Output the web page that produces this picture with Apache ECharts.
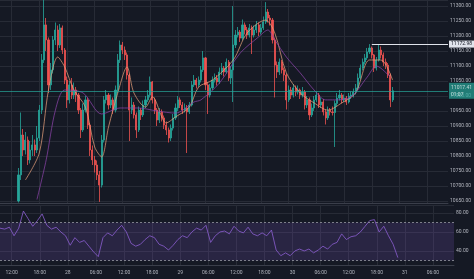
<!DOCTYPE html>
<html>
<head>
<meta charset="utf-8">
<script src="https://cdn.jsdelivr.net/npm/echarts@6/dist/echarts.min.js"></script>
<style>
  html, body { margin: 0; padding: 0; background: #151924; }
  #chart { width: 474px; height: 279px; }
</style>
</head>
<body>
<div id="chart"></div>
<script>
// 30 min candles, first visible candle is at slot 8
var firstSlot = 8
var firstOpen = 10650
var closes = [10737,10870,10820,10853,10787,10820,10837,10820,10860,10953,
  11120,11237,11187,11037,11087,11187,11220,11170,11227,11153,
  11053,10987,11037,11003,11020,11003,10953,10887,10953,10987,
  10903,10820,10787,10770,10737,10703,10853,10987,11003,10970,
  10987,10953,11020,11120,11170,11153,11137,11070,10953,10970,
  10937,10887,10953,10937,10970,10987,11003,11047,10987,10953,
  10920,10947,10927,10903,10887,10860,10893,10927,10960,10987,
  10970,10953,10960,10947,10970,11037,11053,11037,11053,11087,
  11127,11037,11003,11027,11053,11060,11047,11080,11093,11080,
  11113,11060,11087,11170,11203,11213,11193,11237,11220,11203,
  11227,11203,11220,11237,11213,11227,11247,11280,11260,11253,
  11187,11103,11080,11113,11087,11070,10987,11020,11003,11027,
  11013,11020,11003,11013,10970,10987,10937,10960,10987,11003,
  10970,10980,10947,10927,10953,10947,10945,10975,10993,11003,
  10987,10993,10980,11000,11003,11013,11027,11060,11093,11113,
  11127,11147,11160,11137,11093,11120,11153,11137,11113,11103,
  11070,10987,11017.41]
var highs = [10760,10945,10890,10880,10865,10850,10870,10855,10900,10970,
  11140,11320,11260,11195,11110,11200,11245,11235,11240,11235,
  11160,11065,11050,11060,11045,11030,11010,10960,10975,11000,
  10995,10910,10835,10800,10785,10750,10870,11000,11020,11010,
  11005,10995,11035,11140,11185,11180,11165,11145,11075,10995,
  10980,10945,10965,10960,10985,11000,11020,11065,11050,10995,
  10960,10960,10955,10935,10915,10895,10905,10940,10975,11000,
  10995,10980,10975,10970,10980,11050,11070,11060,11065,11100,
  11150,11130,11045,11040,11065,11075,11070,11095,11110,11100,
  11125,11120,11100,11300,11220,11230,11220,11255,11245,11230,
  11240,11235,11235,11250,11245,11240,11265,11313,11290,11270,
  11260,11195,11115,11125,11120,11095,11075,11035,11030,11040,
  11035,11035,11025,11030,11020,11000,10995,10975,11000,11015,
  11010,10995,10990,10955,10965,10960,10965,10985,11010,11020,
  11010,11005,11000,11010,11015,11025,11040,11075,11105,11125,
  11140,11160,11173,11165,11140,11130,11170,11165,11145,11125,
  11110,11075,11030]
var lows = [10645,10720,10800,10805,10770,10775,10800,10800,10810,10850,
  10940,11110,11150,11010,11020,11075,11170,11150,11160,11140,
  11040,10960,10975,10990,10990,10980,10940,10860,10880,10945,
  10890,10800,10770,10745,10720,10647,10695,10845,10975,10955,
  10960,10940,10945,11010,11110,11140,11120,11055,10850,10940,
  10925,10860,10880,10920,10930,10960,10980,10995,10975,10940,
  10900,10910,10915,10890,10870,10845,10850,10885,10920,10950,
  10960,10940,10945,10810,10940,10965,11030,11025,11030,11045,
  11080,11020,10940,10995,11020,11045,11035,11040,11070,11065,
  11075,11050,11040,10980,11160,11195,11180,11185,11205,11190,
  11195,11140,11195,11210,11200,11205,11220,11240,11245,11235,
  11175,10995,11060,11070,11075,11050,10955,10980,10990,10995,
  11000,11005,10990,10995,10955,10960,10920,10930,10950,10980,
  10960,10960,10935,10905,10920,10935,10935,10830,10965,10985,
  10975,10980,10970,10975,10990,10995,11005,11020,11055,11085,
  11105,11120,11140,11125,11080,11085,11115,11125,11100,11090,
  11060,10963,10980]

// moving averages: [slot, price]
var maFast = [[11,10720],[17,10810],[21,11020],[25,11130],[28,11097],[32,11020],[37,10963],
  [41,10830],[44,10797],[47,10897],[51,11010],[55,11097],[58,11010],[63,10963],[66,10997],
  [72,10910],[76,10930],[82,10963],[86,11030],[92,11053],[101,11120],[107,11210],[115,11253],
  [119,11210],[124,11077],[130,11010],[136,10977],[142,10953],[148,10977],[154,11010],
  [160,11120],[165,11120],[170,11053]]
var maSlow = [[16,10655],[20,10787],[24,10953],[28,11020],[36,11010],[44,10940],[52,10960],
  [60,10960],[68,10950],[76,10943],[84,10980],[87,10987],[95,11043],[104,11143],[112,11197],
  [116,11220],[119,11187],[124,11130],[130,11077],[136,11020],[141,10987],[145,10987],
  [152,10997],[159,11063],[163,11100],[169,11063]]

// RSI, one value every 2 slots from slot 0
var rsi = [64,63,65,56,64,82,74,66,72,79,
  67,63,65,60,56,46,54,49,51,45,
  39,34,54,59,56,62,67,60,48,45,
  47,52,56,54,47,45,41,46,52,56,
  54,60,64,62,67,49,56,60,61,58,
  66,61,59,65,58,56,59,56,62,41,
  35,38,35,40,42,40,42,38,41,45,
  42,47,49,58,52,55,56,60,66,72,
  73,60,66,56,47,33]

var lastPrice = 11017.41
var highMark = 11172.98
var highSlot = 161
var slotCount = 195

var slots = []
for (var i = 0; i < slotCount; i++) {
  var m = (27 * 24 + 9.5) * 60 + i * 30
  var d = Math.floor(m / 1440), h = Math.floor((m % 1440) / 60), mm = m % 60
  slots.push({ d: d, h: h, m: mm })
}
var cats = slots.map(function(s, i) { return String(i) })

var candles = []
for (var i = 0; i < slotCount; i++) {
  var k = i - firstSlot
  if (k < 0 || k >= closes.length) { candles.push('-'); continue }
  var o = k === 0 ? firstOpen : closes[k - 1]
  candles.push([o, closes[k], lows[k], highs[k]])
}
var rsiData = rsi.map(function(v, i) { return [i * 2, v] })

function isMajor(i) {
  var s = slots[i]
  return s.m === 0 && s.h % 6 === 0
}
function timeLabel(v) {
  var s = slots[+v]
  if (s.h === 0) return String(s.d)
  return (s.h < 10 ? '0' : '') + s.h + ':00'
}

var gridCol = '#272b36'
var txt = '#b2b5be'
var font = 'Roboto'

var chart = echarts.init(document.getElementById('chart'))
var option = {
  backgroundColor: '#151924',
  animation: false,
  textStyle: { fontFamily: font },
  grid: [
    { left: 0, top: 0, width: 454, height: 203 },
    { left: 0, top: 205, width: 454, height: 60 }
  ],
  xAxis: [{
    type: 'category', gridIndex: 0, data: cats, boundaryGap: false,
    axisLine: { lineStyle: { color: '#3a3e4a' } },
    axisTick: { show: false }, axisLabel: { show: false },
    splitLine: { show: true, interval: function(i) { return isMajor(i) }, lineStyle: { color: gridCol } }
  }, {
    type: 'category', gridIndex: 1, data: cats, boundaryGap: false,
    axisLine: { lineStyle: { color: '#3a3e4a' } },
    axisTick: { show: false },
    axisLabel: { interval: function(i) { return isMajor(i) }, formatter: timeLabel,
      color: txt, fontSize: 5, margin: 5, fontFamily: font },
    splitLine: { show: true, interval: function(i) { return isMajor(i) }, lineStyle: { color: gridCol } }
  }],
  yAxis: [{
    type: 'value', gridIndex: 0, position: 'right', min: 10643.33, max: 11320,
    minInterval: 50, maxInterval: 50,
    axisLine: { show: false }, axisTick: { show: false },
    axisLabel: { color: txt, fontSize: 5, margin: 2, showMinLabel: false, showMaxLabel: false,
      formatter: function(v) { return v.toFixed(2) } },
    splitLine: { lineStyle: { color: gridCol } }
  }, {
    type: 'value', gridIndex: 1, position: 'right', min: 25.2, max: 88.4,
    minInterval: 20, maxInterval: 20,
    axisLine: { show: false }, axisTick: { show: false },
    axisLabel: { color: txt, fontSize: 5, margin: 2, showMinLabel: false, showMaxLabel: false,
      formatter: function(v) { return v.toFixed(2) } },
    splitLine: { lineStyle: { color: gridCol } }
  }],
  series: [{
    type: 'candlestick', xAxisIndex: 0, yAxisIndex: 0, data: candles, barWidth: '70%', clip: true,
    itemStyle: { color: '#26a69a', color0: '#ef5350', borderColor: '#26a69a', borderColor0: '#ef5350', borderWidth: 0.8 },
    markLine: {
      silent: true, symbol: 'none', animation: false,
      data: [
        { yAxis: lastPrice,
          lineStyle: { color: '#26a69a', type: 'solid', width: 1, opacity: 0.7 },
          label: { position: 'end', distance: 1, formatter: lastPrice.toFixed(2) + '\n01:07',
            backgroundColor: '#26a69a', color: '#fff', fontSize: 5, padding: [1, 2], lineHeight: 7 } },
        [{ coord: [highSlot, highMark], lineStyle: { color: '#e0e3eb', type: 'solid', width: 1 },
           label: { position: 'end', distance: 1, formatter: highMark.toFixed(2),
             backgroundColor: '#e0e3eb', color: '#131722', fontSize: 5, padding: [1, 2] } },
         { coord: [slotCount - 1, highMark] }]
      ]
    }
  }, {
    type: 'line', xAxisIndex: 0, yAxisIndex: 0, data: maFast, symbol: 'none', smooth: 0.3, clip: true,
    lineStyle: { color: '#e8a07a', width: 0.8, opacity: 0.9 }
  }, {
    type: 'line', xAxisIndex: 0, yAxisIndex: 0, data: maSlow, symbol: 'none', smooth: 0.3, clip: true,
    lineStyle: { color: '#8e44ad', width: 0.8, opacity: 0.9 }
  }, {
    type: 'line', xAxisIndex: 1, yAxisIndex: 1, data: rsiData, symbol: 'none',
    lineStyle: { color: '#8d5fd3', width: 0.8 },
    markArea: { silent: true, itemStyle: { color: 'rgba(126,87,194,0.2)' },
      data: [[{ yAxis: 30 }, { yAxis: 70 }]] },
    markLine: { silent: true, symbol: 'none', label: { show: false },
      lineStyle: { color: '#9598a1', type: [2, 2], width: 0.8 },
      data: [{ yAxis: 70 }, { yAxis: 30 }] }
  }]
}
chart.setOption(option)
</script>
</body>
</html>
